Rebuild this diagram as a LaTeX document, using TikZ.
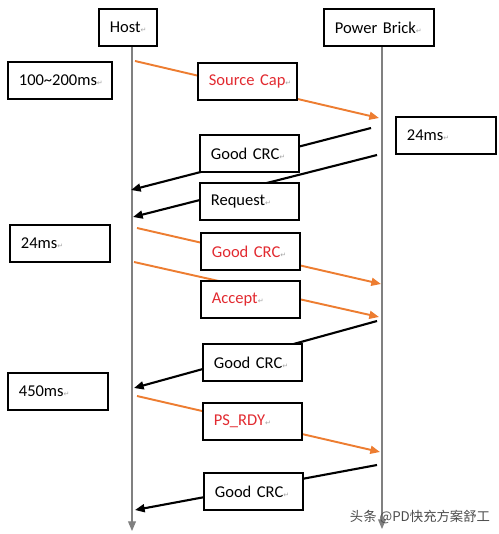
\documentclass[tikz,border=0pt]{standalone}
\usepackage{fontspec}
\setmainfont{Carlito}
\newfontfamily\retfont{DejaVu Sans}
\newfontfamily\cjkfont{Noto Sans CJK SC}
\usetikzlibrary{arrows.meta}
\definecolor{pdorange}{RGB}{237,125,49}
\definecolor{pdred}{RGB}{226,42,48}
\newcommand{\retmark}{\rlap{\retfont\fontsize{4}{4}\selectfont\color{gray!70}↵}}

\begin{document}
\begin{tikzpicture}[
        x=0.02cm, y=-0.02cm,
        >={Triangle[length=5.5pt, width=4.5pt]},
        box/.style={draw, line width=1pt, fill=white, anchor=north west,
            inner xsep=0.22cm, inner ysep=0pt, text width=#1, align=left,
            minimum height=0.75cm, font=\fontsize{9.4}{11}\selectfont},
        box/.default=1.54cm,
        redtxt/.style={text=pdred},
        life/.style={->, gray, line width=0.6pt},
        send/.style={->, pdorange, line width=1.1pt},
        reply/.style={->, black, line width=1.2pt}
    ]

% Bounding box
        \useasboundingbox (0,0) rectangle (499,534);

% Participants
        \node[box=0.72cm] (host) at (98,8) {Host\retmark};
        \node[box=1.76cm] (brick) at (323,8) {Power Brick\retmark};

% Lifelines
        \coordinate (hostend) at (132,531);
        \coordinate (brickend) at (382,529);
        \draw[life] (host.south -| hostend) -- (hostend);
        \draw[life] (brick.south -| brickend) -- (brickend);

% Message end points on the lifelines
        \coordinate (h1) at (135,61);  \coordinate (b1) at (379,118);
        \coordinate (b2) at (371,128); \coordinate (h2) at (131,190);
        \coordinate (b3) at (377,155); \coordinate (h3) at (133,217);
        \coordinate (h4) at (137,228); \coordinate (b4) at (381,284);
        \coordinate (h5) at (134,262); \coordinate (b5) at (379,317);
        \coordinate (b6) at (377,321); \coordinate (h6) at (134,388);
        \coordinate (h7) at (137,396); \coordinate (b7) at (380,452);
        \coordinate (b8) at (377,465); \coordinate (h8) at (135,510);

% Messages
        \draw[send] (h1) -- (b1);
        \draw[reply] (b2) -- (h2);
        \draw[reply] (b3) -- (h3);
        \draw[send] (h4) -- (b4);
        \draw[send] (h5) -- (b5);
        \draw[reply] (b6) -- (h6);
        \draw[send] (h7) -- (b7);
        \draw[reply] (b8) -- (h8);

% Message labels
        \node[box, redtxt] (srccap) at (197,62) {Source Cap\retmark};
        \node[box] (crc1) at (199,134) {Good CRC\retmark};
        \node[box] (request) at (199,182) {Request\retmark};
        \node[box, redtxt] (crc2) at (200,232) {Good CRC\retmark};
        \node[box, redtxt] (accept) at (200,280) {Accept\retmark};
        \node[box] (crc3) at (202,343) {Good CRC\retmark};
        \node[box, redtxt] (psrdy) at (202,402) {PS\_RDY\retmark};
        \node[box] (crc4) at (203,472) {Good CRC\retmark};

% Timings
        \node[box=1.64cm] (t1) at (7,61) {100\textasciitilde200ms\retmark};
        \node[box=1.56cm] (t2) at (395,116) {24ms\retmark};
        \node[box=1.56cm] (t3) at (9,224) {24ms\retmark};
        \node[box=1.56cm] (t4) at (7,372) {450ms\retmark};

% Watermark
        \node[text=black!70, font=\cjkfont\fontsize{7.6}{9}\selectfont] (mark) at (420,517) {头条 @PD快充方案舒工};
    \end{tikzpicture}
\end{document}
